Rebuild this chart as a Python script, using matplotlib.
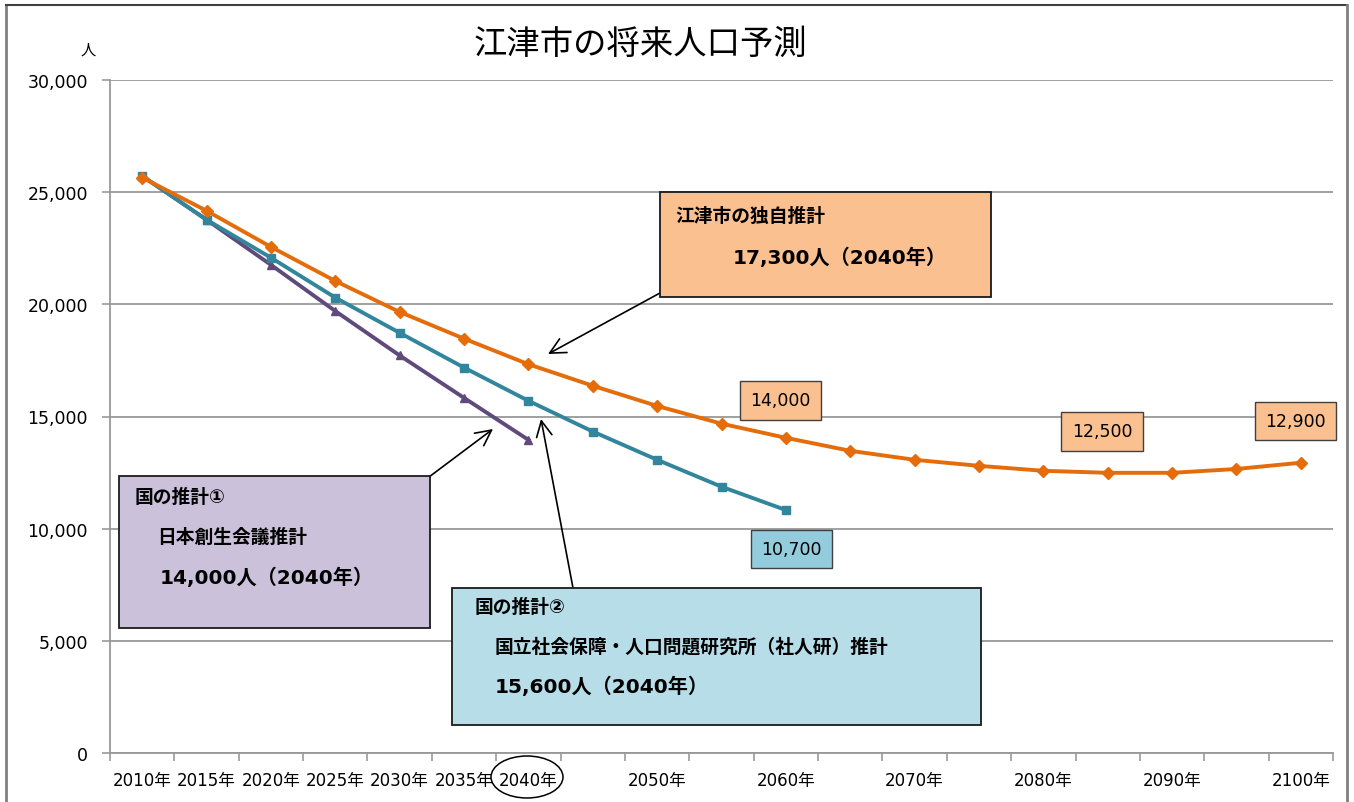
import matplotlib
matplotlib.use('Agg')
import matplotlib.pyplot as plt
from matplotlib.patches import Rectangle, Ellipse
from matplotlib.ticker import FuncFormatter

plt.rcParams['font.family'] = ['DejaVu Sans', 'Noto Sans CJK JP']

# データ（5年ごと、2010〜2100年）
years = list(range(2010, 2101, 5))
labels_shown = ['2010年', '2015年', '2020年', '2025年', '2030年', '2035年', '2040年', '',
                '2050年', '', '2060年', '', '2070年', '', '2080年', '', '2090年', '', '2100年']

gotsu_own = [25650, 24170, 22560, 21040, 19660, 18470, 17330, 16370, 15470, 14680, 14050,
             13470, 13070, 12800, 12580, 12490, 12490, 12660, 12940]
shajinken = [25720, 23770, 22080, 20300, 18730, 17180, 15700, 14330, 13070, 11870, 10830]
sousei = [25720, 23770, 21760, 19700, 17720, 15830, 13960]

# データラベル（位置, 表示値, オフセット）
own_labels = [(10, '14,000', 27), (15, '12,500', 30), (18, '12,900', 30)]
shajinken_label = (10, '10,700', -28)

c_orange = '#E46C0A'
c_teal = '#31859C'
c_purple = '#604A7B'

W, H = 1354, 803
fig = plt.figure(figsize=(W / 100, H / 100), dpi=100)
ax = fig.add_axes([110 / W, 1 - 754 / H, (1333 - 110) / W, (754 - 81) / H])


def px(x, y):
    return (x / W, 1 - y / H)


xs = list(range(len(years)))
ax.plot(xs[:len(sousei)], sousei, color=c_purple, lw=2.8, marker='^', ms=6, zorder=3)
ax.plot(xs[:len(shajinken)], shajinken, color=c_teal, lw=2.8, marker='s', ms=5.5, zorder=4)
ax.plot(xs, gotsu_own, color=c_orange, lw=2.8, marker='D', ms=6.5, zorder=5)

ax.set_ylim(0, 30000)
ax.set_xlim(-0.5, len(years) - 0.5)
ax.set_yticks(range(0, 30001, 5000))
ax.yaxis.set_major_formatter(FuncFormatter(lambda v, p: f'{int(v):,}'))
ax.set_xticks(xs)
ax.set_xticklabels(labels_shown)
ax.set_xticks([i - 0.5 for i in range(len(years) + 1)], minor=True)
ax.tick_params(axis='x', which='major', length=0, pad=13, labelsize=12)
ax.tick_params(axis='x', which='minor', length=6, color='#999999', width=1.2)
ax.tick_params(axis='y', length=6, color='#999999', width=1.2, pad=10, labelsize=12.5)
ax.grid(axis='y', color='#999999', lw=1.3)
ax.set_axisbelow(True)
for s in ['top', 'right']:
    ax.spines[s].set_visible(False)
for s in ['left', 'bottom']:
    ax.spines[s].set_color('#999999')
    ax.spines[s].set_linewidth(1.3)

# データラベル
for i, txt, dy in own_labels:
    ax.annotate(txt, xy=(i, gotsu_own[i]), xytext=(-4, dy), textcoords='offset points',
                ha='center', va='center', fontsize=12.5,
                bbox=dict(boxstyle='square,pad=0.6', fc='#FAC090', ec='#404040', lw=1), zorder=6)
i, txt, dy = shajinken_label
ax.annotate(txt, xy=(i, shajinken[i]), xytext=(4, dy), textcoords='offset points',
            ha='center', va='center', fontsize=12.5,
            bbox=dict(boxstyle='square,pad=0.6', fc='#93CDDD', ec='#404040', lw=1), zorder=6)

# タイトル・単位
fig.text(*px(640, 44), '江津市の将来人口予測', ha='center', va='center', fontsize=24)
fig.text(*px(88, 50), '人', ha='center', va='center', fontsize=11)

# 外枠
fig.add_artist(plt.Line2D([6 / W, 6 / W], [0, 1 - 6 / H], color='#808080', lw=2))
fig.add_artist(plt.Line2D([6 / W, 1347 / W], [1 - 6 / H, 1 - 6 / H], color='#404040', lw=1.5))
fig.add_artist(plt.Line2D([1347 / W, 1347 / W], [0, 1 - 6 / H], color='#808080', lw=2))


def box(x0, y0, x1, y1, fc):
    fig.add_artist(Rectangle(px(x0, y1), (x1 - x0) / W, (y1 - y0) / H, transform=fig.transFigure,
                             fc=fc, ec='#1a1a1a', lw=1.3, zorder=7))


# 注記ボックス
box(660, 193, 991, 298, '#FAC090')
fig.text(*px(675, 216), '江津市の独自推計', ha='left', va='center', fontsize=13.5, weight='bold', zorder=8)
fig.text(*px(733, 258), '17,300人（2040年）', ha='left', va='center', fontsize=14.5, weight='bold', zorder=8)

box(119, 477, 430, 629, '#CCC1DA')
fig.text(*px(135, 497), '国の推計①', ha='left', va='center', fontsize=13.5, weight='bold', zorder=8)
fig.text(*px(157, 537), '日本創生会議推計', ha='left', va='center', fontsize=13.5, weight='bold', zorder=8)
fig.text(*px(160, 578), '14,000人（2040年）', ha='left', va='center', fontsize=14.5, weight='bold', zorder=8)

box(452, 589, 981, 726, '#B7DEE8')
fig.text(*px(475, 607), '国の推計②', ha='left', va='center', fontsize=13.5, weight='bold', zorder=8)
fig.text(*px(495, 647), '国立社会保障・人口問題研究所（社人研）推計', ha='left', va='center',
         fontsize=13.5, weight='bold', zorder=8)
fig.text(*px(495, 687), '15,600人（2040年）', ha='left', va='center', fontsize=14.5, weight='bold', zorder=8)

# 矢印
arrow_style = dict(arrowstyle='->', lw=1.2, color='black', mutation_scale=28, shrinkA=0, shrinkB=0)
ax.annotate('', xy=px(548, 355), xytext=px(660, 294), xycoords='figure fraction',
            arrowprops=arrow_style, annotation_clip=False)
ax.annotate('', xy=px(493, 430), xytext=px(429, 478), xycoords='figure fraction',
            arrowprops=arrow_style, annotation_clip=False)
ax.annotate('', xy=px(541, 420), xytext=px(573, 589), xycoords='figure fraction',
            arrowprops=arrow_style, annotation_clip=False)

# 2040年の丸囲み
fig.add_artist(Ellipse(px(527, 778), 72 / W, 42 / H, transform=fig.transFigure,
                       fill=False, ec='black', lw=1.1))

fig.savefig('out.png', dpi=100)
